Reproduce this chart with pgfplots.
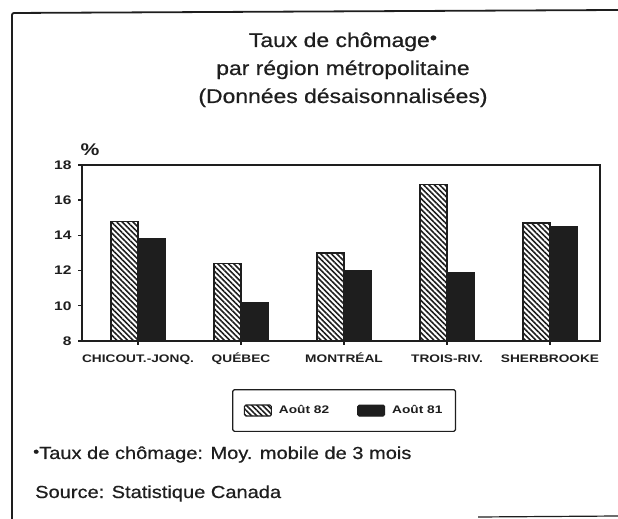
\documentclass[border=0pt]{standalone}
\usepackage{pgfplots}
\pgfplotsset{compat=1.18}
\usetikzlibrary{patterns.meta}
\usepackage{fontspec}
\setmainfont{Liberation Sans}
\newfontfamily\wide[FakeStretch=1.15, FakeBold=0.6]{Liberation Sans}
\newfontfamily\wider[FakeStretch=1.25]{Liberation Sans}
\definecolor{ink}{HTML}{1E1E1E}
\begin{document}
\begin{tikzpicture}
\path[use as bounding box] (0,0) rectangle (618bp,519bp);
% frame
\draw[ink, line width=1.8bp, rounded corners=2bp] (12bp,0bp) -- (12bp,506bp) -- (618bp,509bp);
\draw[ink, line width=1.2bp] (478bp,2bp) -- (618bp,3bp);
% title
\node[ink, font=\wide\fontsize{20}{28}\selectfont, anchor=base, inner sep=0pt] at (343bp,472bp) {Taux de chômage\raisebox{0.3ex}{\fontsize{18}{18}\selectfont •}};
\node[ink, font=\wide\fontsize{20}{28}\selectfont, anchor=base, inner sep=0pt] at (343bp,444bp) {par région métropolitaine};
\node[ink, font=\wide\fontsize{20}{28}\selectfont, anchor=base, inner sep=0pt] at (343bp,416bp) {(Données désaisonnalisées)};
% percent sign
\node[ink, font=\wider\bfseries\fontsize{17}{17}\selectfont, inner sep=0pt] at (90bp,369bp) {\%};
% footnotes
\node[ink, font=\wide\fontsize{17.5}{20}\selectfont, anchor=base west, inner sep=0pt] at (33bp,60bp) {\raisebox{0.25ex}{\fontsize{15}{15}\selectfont •}Taux de chômage: Moy. mobile de 3 mois};
\node[ink, font=\wide\fontsize{17.5}{20}\selectfont, anchor=base west, inner sep=0pt] at (35bp,21bp) {Source: Statistique Canada};
\begin{axis}[
  at={(82bp,178bp)}, anchor=south west,
  width=518bp, height=176bp, scale only axis,
  xmin=-0.544, xmax=4.485, ymin=8, ymax=18,
  ybar=0pt, bar width=27bp,
  xtick={0,...,4},
  xticklabels={CHICOUT.-JONQ., QUÉBEC, MONTRÉAL, TROIS-RIV., SHERBROOKE},
  ytick={8,10,...,18},
  axis line style={ink, line width=1.6bp},
  tick style={ink, line width=1.4bp},
  major tick length=4bp,
  tick align=outside, xtick pos=bottom, ytick pos=left,
  tick label style={font=\wider\bfseries\fontsize{11}{13}\selectfont, text=ink},
  yticklabel style={font=\wider\bfseries\fontsize{12.5}{14}\selectfont, xshift=-3bp},
  /pgf/number format/assume math mode=true,
  xticklabel style={yshift=-6bp, text height=8bp, text depth=0pt, anchor=north},
  legend image code/.code={\draw[#1] (0bp,-5.5bp) rectangle (27bp,5.5bp);},
  legend style={at={(0.506,-0.395)}, anchor=center, draw=ink, line width=1.2bp,
    rounded corners=1.5bp, legend columns=2,
    font=\wider\bfseries\fontsize{11}{13}\selectfont, text=ink,
    inner xsep=11bp, inner ysep=14bp,
    /tikz/every odd column/.append style={column sep=5bp},
    /tikz/every even column/.append style={column sep=26bp}},
  legend cell align=left,
]
\addplot[draw=ink, line width=1.2bp, pattern={Lines[angle=-45,distance=3.8bp,line width=1.6bp]}, pattern color=ink]
  coordinates {(0,14.8) (1,12.4) (2,13.0) (3,16.9) (4,14.7)};
\addplot[draw=ink, fill=ink, line width=1bp]
  coordinates {(0,13.8) (1,10.2) (2,12.0) (3,11.9) (4,14.5)};
\legend{Août 82, Août 81}
\end{axis}
\end{tikzpicture}
\end{document}
